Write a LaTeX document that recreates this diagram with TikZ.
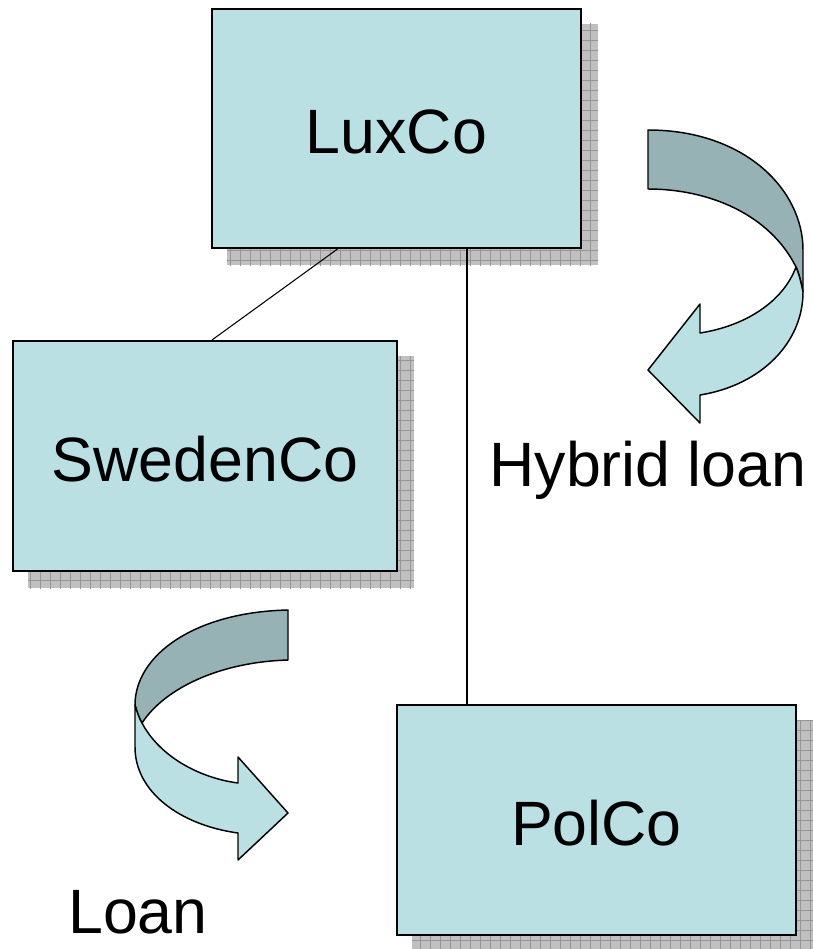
\documentclass[tikz,border=0pt]{standalone}
\usepackage{fontspec}
\setmainfont{Liberation Sans}
\usetikzlibrary{backgrounds,calc}
\definecolor{boxfill}{RGB}{187,224,227}
\definecolor{ribdark}{RGB}{150,178,181}
\definecolor{shadowfill}{RGB}{192,192,192}
\definecolor{shadowgrid}{RGB}{150,150,150}
\tikzset{
  company/.style={draw=black, line width=1.5pt, fill=boxfill, font=\fontsize{47}{56}\selectfont, inner sep=0pt, text height=38pt, text depth=0pt},
  label/.style={font=\fontsize{47}{56}\selectfont, inner sep=0pt},
  link/.style={line width=0.8pt},
  ribbon/.style={draw=black, line width=1.1pt, line join=round},
}
\newcommand{\boxshadow}[1]{%
  \fill[shadowfill] ([shift={(16,16)}]#1.north west) rectangle ([shift={(16,16)}]#1.south east);
  \begin{scope}
    \clip ([shift={(16,16)}]#1.north west) rectangle ([shift={(16,16)}]#1.south east);
    \draw[shadowgrid, line width=0.6pt, step=7.5pt] ([shift={(0,0)}]#1.north west) grid ([shift={(30,30)}]#1.south east);
  \end{scope}}
\begin{document}
\begin{tikzpicture}[x=0.75pt, y=-0.75pt]
\useasboundingbox (0,0) rectangle (813,949);
\node[company, minimum width=276.75pt, minimum height=179.25pt] (lux) at (396.5,128.5) {LuxCo};
\node[company, minimum width=288pt, minimum height=172.5pt] (swe) at (205,456) {SwedenCo};
\node[company, minimum width=299.25pt, minimum height=172.5pt] (pol) at (596.5,820) {PolCo};
\begin{scope}[on background layer]
  \boxshadow{lux}
  \boxshadow{swe}
  \boxshadow{pol}
\end{scope}
\draw[link] ($(lux.south west)!0.341!(lux.south east)$) -- ($(swe.north west)!0.518!(swe.north east)$);
\draw[link] (lux.south -| 467,0) -- (pol.north -| 467,0);
% Hybrid loan arrow
\draw[ribbon, fill=ribdark] (648,130) .. controls (745,130) and (803,190) .. (803,250) -- (803,292)
  .. controls (801,282) and (799,274) .. (796,267) .. controls (770,215) and (710,189) .. (648,189) -- cycle;
\draw[ribbon, fill=boxfill] (796,267) .. controls (783,302) and (745,326) .. (700,333) -- (700,304) -- (648,370) -- (700,423) -- (700,395)
  .. controls (762,385) and (803,342) .. (803,292) .. controls (801,282) and (799,274) .. (796,267) -- cycle;
% Loan arrow
\draw[ribbon, fill=ribdark] (288,610) .. controls (195,612) and (135,655) .. (135,705)
  .. controls (137,712) and (139,718) .. (142,723) .. controls (165,688) and (220,662) .. (288,660) -- cycle;
\draw[ribbon, fill=boxfill] (142,723) .. controls (160,757) and (200,778) .. (238,783) -- (238,757) -- (288,813) -- (238,860) -- (238,833)
  .. controls (180,825) and (135,792) .. (135,747) -- (135,705) .. controls (137,712) and (139,718) .. (142,723) -- cycle;
\node[label] (hyb) at (648,470) {Hybrid loan};
\node[label] (loan) at (138,912) {Loan};
\end{tikzpicture}
\end{document}
